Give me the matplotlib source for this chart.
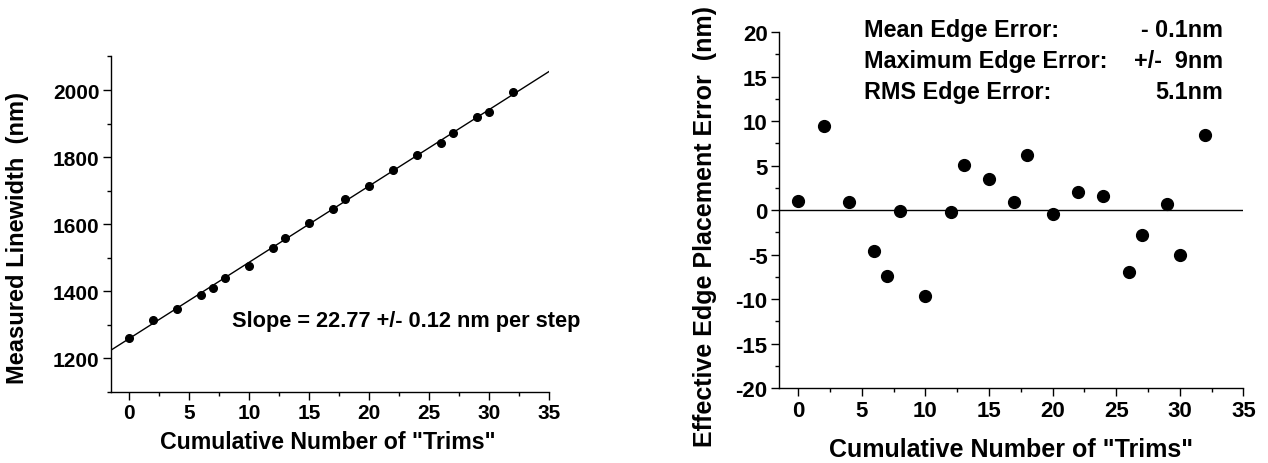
import numpy as np
import matplotlib
matplotlib.use("Agg")
import matplotlib.pyplot as plt
from matplotlib.ticker import MultipleLocator

plt.rcParams['font.family'] = ['Liberation Sans', 'DejaVu Sans']
plt.rcParams['font.weight'] = 'bold'
plt.rcParams['axes.unicode_minus'] = False

# ---- data ----
trims = [0, 2, 4, 6, 7, 8, 10, 12, 13, 15, 17, 18, 20, 22, 24, 26, 27, 29, 30, 32]
linewidth = [1259, 1313, 1348, 1389, 1409, 1440, 1476, 1530, 1558, 1602,
             1646, 1674, 1713, 1761, 1806, 1843, 1871, 1919, 1935, 1995]
edge_error = [1.05, 9.48, 0.97, -4.64, -7.38, -0.11, -9.66, -0.22, 5.02, 3.48,
              0.94, 6.18, -0.41, 2.06, 1.57, -7.0, -2.77, 0.71, -5.09, 8.39]
fit_slope = 22.77
fit_intercept = 1258.0
x_label = 'Cumulative Number of "Trims"'
left_ylabel = 'Measured Linewidth  (nm)'
right_ylabel = 'Effective Edge Placement Error  (nm)'
slope_text = 'Slope = 22.77 +/- 0.12 nm per step'
stat_names = ['Mean Edge Error:', 'Maximum Edge Error:', 'RMS Edge Error:']
stat_values = ['- 0.1nm', '+/-  9nm', '5.1nm']

fig = plt.figure(figsize=(12.68, 4.64), dpi=100)

def style(ax, fs):
    for s in ['top', 'right']:
        ax.spines[s].set_visible(False)
    for s in ['left', 'bottom']:
        ax.spines[s].set_linewidth(1.0)
    ax.tick_params(which='major', direction='out', length=5.8, width=1,
                   labelsize=fs, pad=2.5)
    ax.tick_params(which='minor', direction='out', length=3, width=1)
    for lab in ax.get_xticklabels() + ax.get_yticklabels():
        lab.set_fontweight('bold')

# ---- left panel ----
ax1 = fig.add_axes([0.0875, 0.1537, 0.3454, 0.7224])
ax1.plot(trims, linewidth, 'o', color='black', markersize=5.5, zorder=3)
xl = np.array([-1.5, 35.0])
ax1.plot(xl, fit_intercept + fit_slope * xl, color='black', lw=1.0)
ax1.set_xlim(-1.5, 35)
ax1.set_ylim(1100, 2100)
ax1.xaxis.set_major_locator(MultipleLocator(5))
ax1.xaxis.set_minor_locator(MultipleLocator(2.5))
ax1.yaxis.set_major_locator(MultipleLocator(200))
ax1.yaxis.set_minor_locator(MultipleLocator(100))
ax1.set_yticks([1200, 1400, 1600, 1800, 2000])
style(ax1, 15)
ax1.set_xlabel(x_label, fontsize=16.7, fontweight='bold')
ax1.xaxis.label.set_va('center')
ax1.xaxis.set_label_coords(0.495, -0.150)
ax1.set_ylabel(left_ylabel, fontsize=17, fontweight='bold')
ax1.yaxis.label.set_va('center')
ax1.yaxis.set_label_coords(-0.2135, 0.4615)
ax1.text(8.56, 1295, slope_text, fontsize=15.7, fontweight='bold',
         ha='left', va='baseline')

# ---- right panel ----
ax2 = fig.add_axes([0.6144, 0.161, 0.3662, 0.7679])
ax2.plot(trims, edge_error, 'o', color='black', markersize=8.5, zorder=3)
ax2.axhline(0, color='black', lw=1.0)
ax2.set_xlim(-1.5, 35)
ax2.set_ylim(-20, 20)
ax2.xaxis.set_major_locator(MultipleLocator(5))
ax2.xaxis.set_minor_locator(MultipleLocator(2.5))
ax2.yaxis.set_major_locator(MultipleLocator(5))
ax2.yaxis.set_minor_locator(MultipleLocator(2.5))
style(ax2, 16)
ax2.set_xlabel(x_label, fontsize=18, fontweight='bold')
ax2.xaxis.label.set_va('center')
ax2.xaxis.set_label_coords(0.50, -0.170)
ax2.set_ylabel(right_ylabel, fontsize=18, fontweight='bold')
ax2.yaxis.label.set_va('center')
ax2.yaxis.set_label_coords(-0.159, 0.458)
rows_y = [19.6, 16.07, 12.55]
for name, val, yy in zip(stat_names, stat_values, rows_y):
    ax2.text(5.15, yy, name, fontsize=16.8, fontweight='bold',
             ha='left', va='baseline', clip_on=False)
    ax2.text(33.4, yy, val, fontsize=16.8, fontweight='bold',
             ha='right', va='baseline', clip_on=False)

fig.savefig('out.png', dpi=100)
